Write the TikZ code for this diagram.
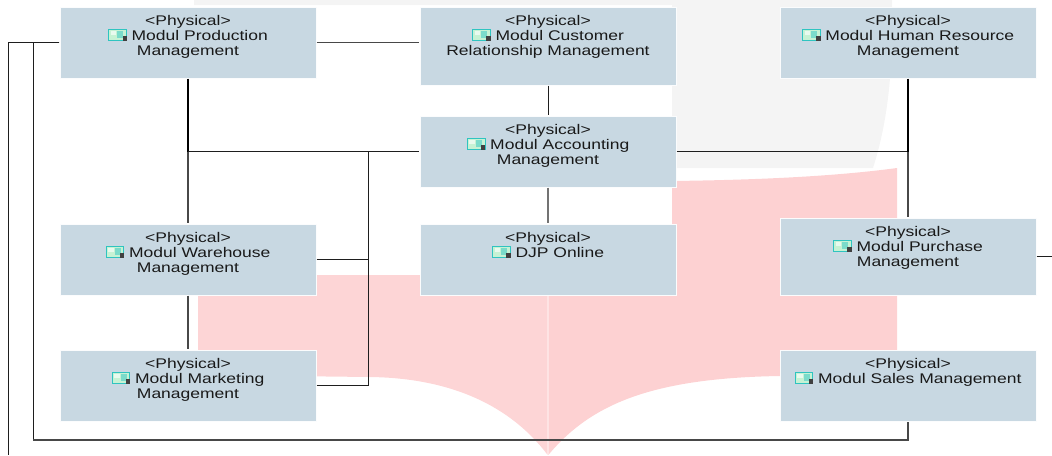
\documentclass[tikz,border=0pt]{standalone}
\usepackage{fontspec}
\setmainfont[FakeStretch=1.25]{Liberation Sans}
\definecolor{boxblue}{HTML}{C8D8E2}
\definecolor{pinkL}{HTML}{FDD5D6}
\definecolor{pinkR}{HTML}{FDD1D2}
\definecolor{wmgrey}{HTML}{F4F4F4}
\definecolor{lineblack}{HTML}{1E1E1E}
\definecolor{linegrey}{HTML}{484848}
\definecolor{icoedge}{HTML}{2FC4C0}
\definecolor{icofill}{HTML}{C6F2D4}
\newcommand{\modicon}{\tikz[x=1pt,y=1pt,line width=0.6pt]{%
  \draw[icoedge,fill=icofill] (0.3,0.3) rectangle (13.7,8.7);
  \fill[white!60!icofill] (2,4) rectangle (6,7.5);
  \fill[icoedge!50!icofill] (7,2) rectangle (11.5,7);
  \fill[black!75] (10.8,0) rectangle (14,3.2);}}
\newcommand{\boxtext}[2]{\parbox[c][#1][t]{192pt}{\centering\rule{0pt}{13.9pt}\ignorespaces #2}}
\tikzset{
  modbox/.style={fill=boxblue,draw=white!92!boxblue,line width=0.75pt,inner sep=0pt,outer sep=0.4pt,
    font=\fontsize{10.5}{11.25}\selectfont,text=black!90},
  conn/.style={draw=lineblack,line width=0.75pt},
  conngrey/.style={draw=linegrey,line width=0.95pt},
  connheavy/.style={draw=black,line width=1.2pt}
}
\begin{document}
\begin{tikzpicture}[x=0.75pt,y=-0.75pt]
\path[use as bounding box] (0,0) rectangle (1052,455);
% watermark
\fill[wmgrey] (194,0) -- (892,0) .. controls (893,60) and (890,115) .. (873,168) -- (672,168) -- (672,5) -- (194,5) -- cycle;
\fill[pinkL] (198,275) -- (547.7,275) -- (547.7,455) .. controls (510,405) and (450,378) .. (370,377) -- (198,375) -- cycle;
\fill[pinkR] (548.3,275) -- (672,275) -- (672,181) .. controls (750,180) and (830,177) .. (897,168) -- (897,375) -- (780,376) .. controls (650,378) and (590,405) .. (548.3,455) -- cycle;
\fill[pinkR!60!white] (547.7,295) rectangle (548.3,455);
% modules
\node[modbox] (prod) at (188,42.5) {\boxtext{53.25pt}{<Physical>\\\modicon{} Modul Production\\Management}};
\node[modbox] (crm) at (548,46) {\boxtext{58.5pt}{<Physical>\\\modicon{} Modul Customer\\Relationship Management}};
\node[modbox] (hr) at (908,42.5) {\boxtext{53.25pt}{<Physical>\\\modicon{} Modul Human Resource\\Management}};
\node[modbox] (acc) at (548,151.5) {\boxtext{53.25pt}{<Physical>\\\modicon{} Modul Accounting\\Management}};
\node[modbox] (djp) at (548,259.5) {\boxtext{53.25pt}{<Physical>\\\modicon{} DJP Online}};
\node[modbox] (ware) at (188,259.5) {\boxtext{53.25pt}{<Physical>\\\modicon{} Modul Warehouse\\Management}};
\node[modbox] (mark) at (188,385.5) {\boxtext{53.25pt}{<Physical>\\\modicon{} Modul Marketing\\Management}};
\node[modbox] (pur) at (908,256.5) {\boxtext{57.75pt}{<Physical>\\\modicon{} Modul Purchase\\Management}};
\node[modbox] (sal) at (908,385.5) {\boxtext{53.25pt}{<Physical>\\\modicon{} Modul Sales Management}};
% junctions and free ends
\coordinate (j1) at (188,151.5);
\coordinate (j2) at (368,151.5);
\coordinate (j3) at (908,151.5);
\coordinate (outerend) at (8,455);
\coordinate (innerleft) at (33,42.5);
\coordinate (innerbottom) at (33,440);
\coordinate (purend) at (1052,256.5);
% connectors
\draw[conngrey] (prod.east) -- (prod.east -| crm.west);
\draw[conn] (prod.west) -- (innerleft);
\draw[conn] (prod.west) -| (outerend);
\draw[conn] (innerleft) -- (innerbottom);
\draw[conngrey] (innerbottom) -| (sal.south);
\draw[connheavy] (prod.south) -- (j1);
\draw[conngrey] (j1) -- (ware.north);
\draw[conngrey] (ware.south) -- (mark.north);
\draw[conn] (j1) -- (acc.west);
\draw[conn] (ware.east) -| (j2);
\draw[conn] (mark.east) -| (j2);
\draw[conn] (crm.south) -- (acc.north);
\draw[draw=black!55,line width=0.95pt] (acc.south) -- (djp.north);
\draw[conn] (acc.east) -- (j3);
\draw[connheavy] (hr.south) -- (j3);
\draw[conngrey] (j3) -- (pur.north);
\draw[conn] (pur.east) -- (purend);
\end{tikzpicture}
\end{document}
